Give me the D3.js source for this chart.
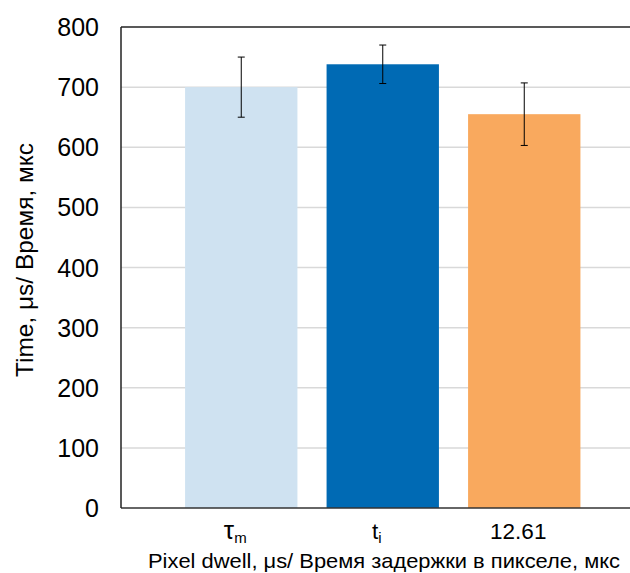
<!DOCTYPE html>
<html>
<head>
<meta charset="utf-8">
<script src="https://cdn.jsdelivr.net/npm/d3@7"></script>
<style>
  body { margin: 0; background: #fff; }
  text { font-family: "Liberation Sans", Arial, sans-serif; fill: #000; }
</style>
</head>
<body>
<div id="wrapper"></div>
<script>
// данные
const categories = ["tau_m", "t_i", "12.61"];
const labelMain = ["τ", "t", "12.61"];
const labelSub = ["m", "i", ""];
const values = [700, 738, 655];
const errors = [50, 32, 52];
const colors = ["#cfe2f1", "#006ab4", "#f9a95e"];
const yTicks = [0, 100, 200, 300, 400, 500, 600, 700, 800];

const width = 630, height = 573;
const margin = { top: 27, left: 121, bottom: 65 };

const svg = d3.select("#wrapper").append("svg")
    .attr("width", width)
    .attr("height", height);

const y = d3.scaleLinear()
    .domain([0, 800])
    .range([height - margin.bottom, margin.top]);

const x = d3.scaleBand()
    .domain(categories)
    .range([170.5, 595])
    .paddingInner(0.206)
    .paddingOuter(0.103);

// сетка
svg.append("g")
    .selectAll("line")
    .data(yTicks.filter(d => d > 0 && d < 800))
    .enter()
    .append("line")
    .attr("x1", margin.left)
    .attr("x2", width)
    .attr("y1", d => y(d))
    .attr("y2", d => y(d))
    .attr("stroke", "#d9d9d9")
    .attr("stroke-width", 1.5);

// столбцы
svg.append("g")
    .selectAll("rect")
    .data(categories)
    .enter()
    .append("rect")
    .attr("x", d => x(d))
    .attr("width", x.bandwidth())
    .attr("y", (d, i) => y(values[i]))
    .attr("height", (d, i) => y(0) - y(values[i]))
    .attr("fill", (d, i) => colors[i]);

// рамка
svg.append("line")
    .attr("x1", margin.left).attr("x2", width)
    .attr("y1", y(800)).attr("y2", y(800))
    .attr("stroke", "#222").attr("stroke-width", 1.5);
svg.append("line")
    .attr("x1", margin.left).attr("x2", width)
    .attr("y1", y(0)).attr("y2", y(0))
    .attr("stroke", "#333").attr("stroke-width", 1.5);
svg.append("line")
    .attr("x1", margin.left).attr("x2", margin.left)
    .attr("y1", y(800)).attr("y2", y(0))
    .attr("stroke", "#222").attr("stroke-width", 1.5);

// планки погрешностей
const err = svg.append("g")
    .selectAll("g")
    .data(categories)
    .enter()
    .append("g")
    .attr("stroke", "#000")
    .attr("stroke-width", 1);
err.append("line")
    .attr("x1", d => x(d) + x.bandwidth() / 2)
    .attr("x2", d => x(d) + x.bandwidth() / 2)
    .attr("y1", (d, i) => y(values[i] + errors[i]))
    .attr("y2", (d, i) => y(values[i] - errors[i]));
err.append("line")
    .attr("x1", d => x(d) + x.bandwidth() / 2 - 3.5)
    .attr("x2", d => x(d) + x.bandwidth() / 2 + 3.5)
    .attr("y1", (d, i) => y(values[i] + errors[i]))
    .attr("y2", (d, i) => y(values[i] + errors[i]));
err.append("line")
    .attr("x1", d => x(d) + x.bandwidth() / 2 - 3.5)
    .attr("x2", d => x(d) + x.bandwidth() / 2 + 3.5)
    .attr("y1", (d, i) => y(values[i] - errors[i]))
    .attr("y2", (d, i) => y(values[i] - errors[i]));

// подписи оси Y
svg.append("g")
    .selectAll("text")
    .data(yTicks)
    .enter()
    .append("text")
    .attr("x", 99)
    .attr("y", d => y(d) + 9)
    .attr("text-anchor", "end")
    .style("font-size", "25px")
    .text(d => d);

// подписи категорий
const catLabels = svg.append("g")
    .selectAll("text")
    .data(categories)
    .enter()
    .append("text")
    .attr("x", d => x(d) + x.bandwidth() / 2 - 6)
    .attr("y", 539)
    .attr("text-anchor", "middle")
    .style("font-size", "22.5px");
catLabels.append("tspan")
    .style("font-size", (d, i) => i === 0 ? "26px" : null)
    .text((d, i) => labelMain[i]);
catLabels.append("tspan")
    .attr("dy", 4)
    .style("font-size", "15px")
    .text((d, i) => labelSub[i]);

// заголовки осей
svg.append("text")
    .attr("transform", `translate(33,260) rotate(-90)`)
    .attr("text-anchor", "middle")
    .attr("textLength", 234)
    .attr("lengthAdjust", "spacingAndGlyphs")
    .style("font-size", "24px")
    .text("Time, μs/ Время, мкс");

svg.append("text")
    .attr("x", 384)
    .attr("y", 567.5)
    .attr("text-anchor", "middle")
    .attr("textLength", 472)
    .attr("lengthAdjust", "spacingAndGlyphs")
    .style("font-size", "21px")
    .text("Pixel dwell, μs/ Время задержки в пикселе, мкс");
</script>
</body>
</html>
